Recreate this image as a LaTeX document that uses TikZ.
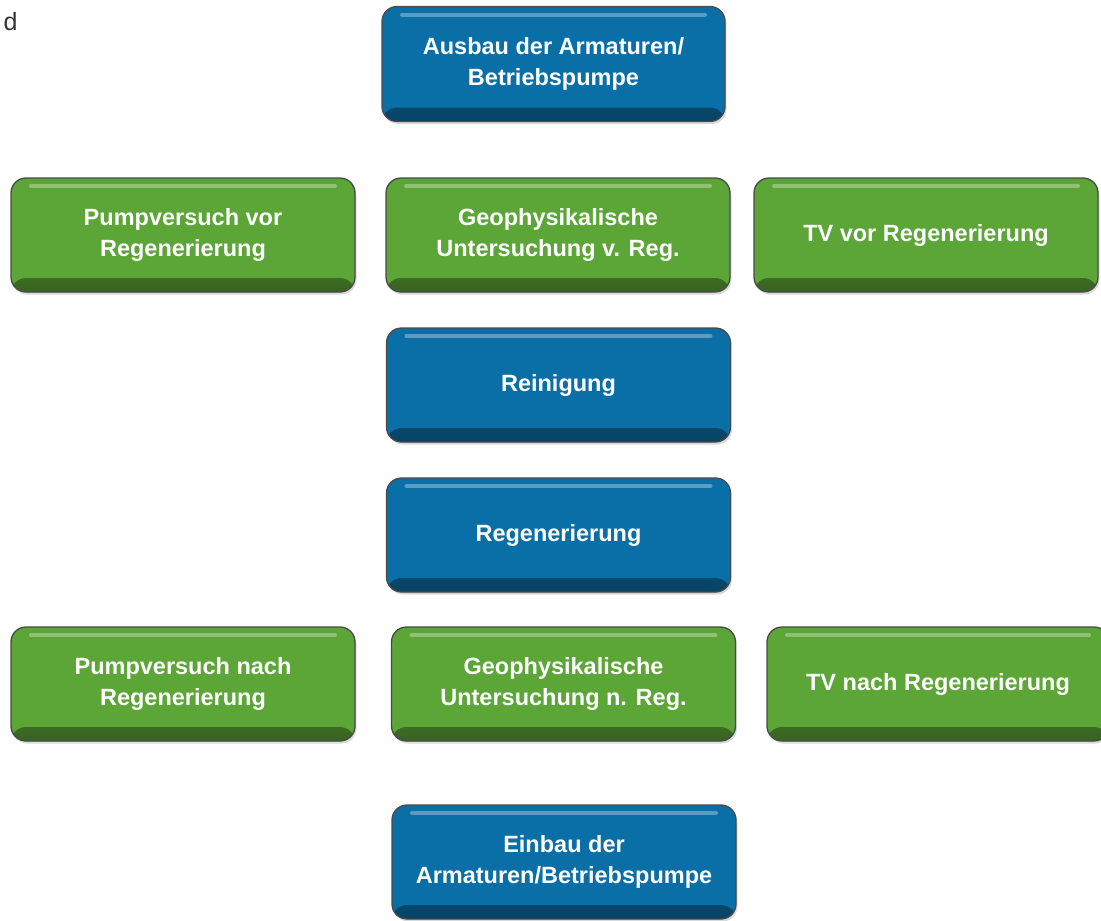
\documentclass[tikz,border=0pt]{standalone}
\usepackage{fontspec}
\setmainfont{Liberation Sans}
\usetikzlibrary{shadows}
\definecolor{bblue}{HTML}{0B6FA7}
\definecolor{bgreen}{HTML}{5CA537}
\definecolor{edge}{HTML}{4A4A4A}
\tikzset{
  gbox/.style={rounded corners=15pt, minimum width=344pt, minimum height=114pt,
    inner sep=0pt, draw=edge, line width=1.3pt, fill=#1, text=white,
    font=\fontsize{23.5}{31}\selectfont\bfseries, align=center,
    drop shadow={opacity=0.3, shadow xshift=1.5pt, shadow yshift=-2.5pt},
    path picture={
      \shade[top color=#1, bottom color=#1!60!black]
        ([yshift=14pt]path picture bounding box.south west) rectangle (path picture bounding box.south east);
      \draw[line width=4pt, #1!60!white, line cap=round, opacity=0.8]
        ([xshift=20pt,yshift=-8pt]path picture bounding box.north west) --
        ([xshift=-20pt,yshift=-8pt]path picture bounding box.north east);
    }},
  bluebox/.style={gbox=bblue},
  greenbox/.style={gbox=bgreen},
}
\begin{document}
\begin{tikzpicture}[x=1pt,y=1pt]
\useasboundingbox (0,0) rectangle (1101,-921);
\clip (0,0) rectangle (1101,-921);
\node[anchor=base west, text=black!80, font=\fontsize{25}{30}\selectfont] (d) at (0,-30) {d};
\node[bluebox, minimum width=343pt, minimum height=115pt] (aus) at (553.5,-64) {Ausbau der Armaturen/\\Betriebspumpe};
\node[greenbox] (pv) at (183,-235) {Pumpversuch vor\\Regenerierung};
\node[greenbox] (gv) at (558,-235) {Geophysikalische\\Untersuchung v. Reg.};
\node[greenbox] (tv) at (926,-235) {TV vor Regenerierung};
\node[bluebox] (rein) at (558.5,-385) {Reinigung};
\node[bluebox] (reg) at (558.5,-535) {Regenerierung};
\node[greenbox] (pn) at (183,-684) {Pumpversuch nach\\Regenerierung};
\node[greenbox] (gn) at (563.5,-684) {Geophysikalische\\Untersuchung n. Reg.};
\node[greenbox, minimum width=342pt] (tn) at (938,-684) {TV nach Regenerierung};
\node[bluebox] (ein) at (564,-862) {Einbau der\\Armaturen/Betriebspumpe};
\end{tikzpicture}
\end{document}
